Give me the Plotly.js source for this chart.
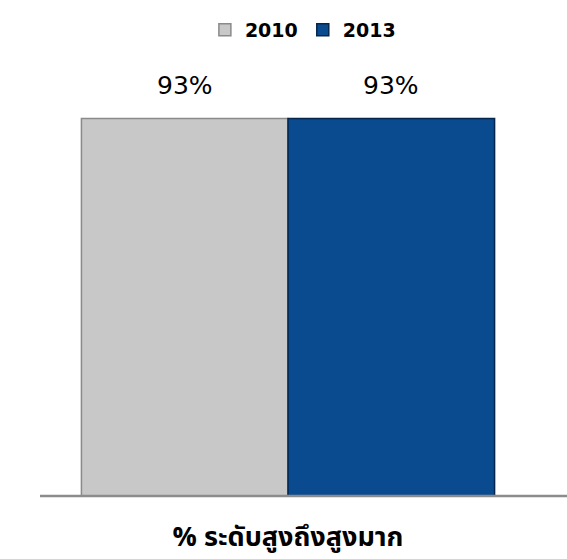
<!DOCTYPE html>
<html>
<head>
<meta charset="utf-8">
<script src="https://cdn.plot.ly/plotly-3.0.1.min.js"></script>
<style>html,body{margin:0;padding:0;background:#fff;}#chart{width:567px;height:559px;}</style>
</head>
<body>
<div id="chart"></div>
<script>
var categories = ['% ระดับสูงถึงสูงมาก'];
var seriesNames = ['2010', '2013'];
var values2010 = [93];
var values2013 = [93];
var colors = ['#c8c8c8', '#0a4a8f'];
var edgeColors = ['#8a8a8a', '#04264d'];

var bargap = 0.167;
var series = [values2010, values2013];

var traces = series.map(function (vals, i) {
  return {
    type: 'bar',
    name: seriesNames[i],
    x: categories,
    y: vals,
    marker: {color: colors[i], line: {color: edgeColors[i], width: 1.5}},
    hoverinfo: 'skip'
  };
});

// value labels placed from the data (category index + group offset, bar value)
var annotations = [];
var nSeries = series.length;
var slot = (1 - bargap) / nSeries;
series.forEach(function (vals, i) {
  vals.forEach(function (v, c) {
    annotations.push({
      xref: 'x', yref: 'y',
      x: c - (1 - bargap) / 2 + slot * (i + 0.5),
      y: v,
      text: v + '%',
      showarrow: false,
      yanchor: 'bottom',
      yshift: 16,
      font: {family: 'DejaVu Sans', size: 25, color: '#000'}
    });
  });
});

var layout = {
  width: 567, height: 559,
  margin: {l: 40, r: 31, t: 89, b: 63},
  paper_bgcolor: '#fff', plot_bgcolor: '#fff',
  barmode: 'group', bargap: bargap, bargroupgap: 0,
  showlegend: true,
  legend: {orientation: 'h', x: 0.53, xanchor: 'center', y: 1.145, yanchor: 'middle',
    font: {family: 'DejaVu Sans', size: 19, color: '#000', weight: 'bold'}, itemwidth: 20, traceorder: 'normal'},
  xaxis: {showline: false, ticks: '', ticklabelstandoff: 22,
    tickfont: {family: 'Noto Sans Thai, Noto Sans, DejaVu Sans', size: 27, color: '#000', weight: 'bold'}},
  yaxis: {range: [0, 100], visible: false, showgrid: false, zeroline: false},
  annotations: annotations,
  shapes: [{type: 'line', xref: 'paper', yref: 'paper', x0: 0, x1: 1.0625, y0: 0, y1: 0,
    line: {color: '#8c8c8c', width: 2.5}}]
};

Plotly.newPlot('chart', traces, layout, {displayModeBar: false, staticPlot: true});
</script>
</body>
</html>
